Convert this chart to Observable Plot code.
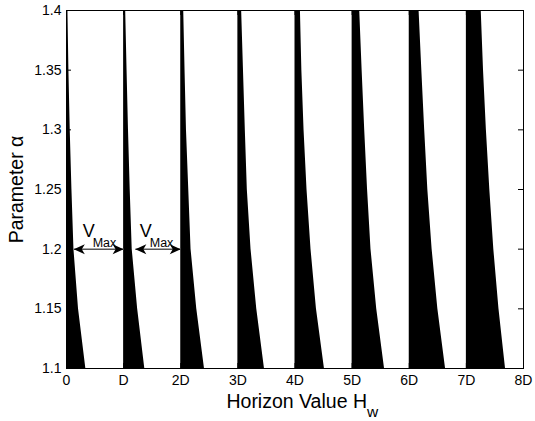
<!DOCTYPE html>
<html><head><meta charset="utf-8">
<script src="https://cdn.jsdelivr.net/npm/d3@7"></script>
<script src="https://cdn.jsdelivr.net/npm/@observablehq/plot@0.6"></script>
<style>
body{margin:0;background:#fff}
#chart svg{font-family:"Liberation Sans",Arial,Helvetica,sans-serif;background:#fff}
</style>
</head><body><div id="chart"></div>
<script>
// alpha levels at which the right edge of each black band was read
const alphaLevels = [1.1, 1.15, 1.2, 1.25, 1.3, 1.35, 1.4];
// left edge of each band (in units of D)
const bandStarts = [0, 1, 2, 3, 4, 5, 6, 7];
// band widths (in D) at each alpha level
const width0 = [0.338, 0.21, 0.13, 0.095, 0.065, 0.042, 0.025];
const width1 = [0.37, 0.245, 0.15, 0.115, 0.085, 0.06, 0.036];
const width2 = [0.415, 0.28, 0.18, 0.14, 0.10, 0.075, 0.052];
const width3 = [0.465, 0.33, 0.23, 0.165, 0.13, 0.098, 0.066];
const width4 = [0.515, 0.375, 0.28, 0.21, 0.158, 0.12, 0.095];
const width5 = [0.567, 0.43, 0.33, 0.27, 0.22, 0.175, 0.133];
const width6 = [0.635, 0.50, 0.40, 0.325, 0.27, 0.22, 0.172];
const width7 = [0.685, 0.57, 0.48, 0.41, 0.35, 0.30, 0.26];
const bandWidths = [width0, width1, width2, width3, width4, width5, width6, width7];

// axis ticks
const xTicks = [0, 1, 2, 3, 4, 5, 6, 7, 8];
const xTickLabels = ["0", "D", "2D", "3D", "4D", "5D", "6D", "7D", "8D"];
const yTicks = [1.1, 1.15, 1.2, 1.25, 1.3, 1.35, 1.4];
const yTickLabels = ["1.1", "1.15", "1.2", "1.25", "1.3", "1.35", "1.4"];

// V_Max annotations
const vmaxFrom = [0.128, 1.205];
const vmaxTo = [1, 2];
const vmaxAlpha = [1.2, 1.2];

const bands = bandStarts.flatMap((k, i) =>
  alphaLevels.map((a, j) => ({k, alpha: a, x1: k, x2: k + bandWidths[i][j]})));
const vmax = vmaxFrom.map((f, i) => ({from: f, to: vmaxTo[i], alpha: vmaxAlpha[i]}));
const heads = vmax.flatMap(d => [
  {x: d.from, alpha: d.alpha, rot: 180},
  {x: d.to, alpha: d.alpha, rot: 0}
]);

const arrowHead = {
  draw(ctx) {
    ctx.moveTo(0, 0);
    ctx.lineTo(-11, -5);
    ctx.lineTo(-8, 0);
    ctx.lineTo(-11, 5);
    ctx.closePath();
  }
};

const W = 535, H = 421, mL = 66, mR = 12, mT = 10, mB = 53;
const pw = W - mL - mR, ph = H - mT - mB, tick = 5;

const chart = Plot.plot({
  width: W, height: H,
  marginLeft: mL, marginRight: mR, marginTop: mT, marginBottom: mB,
  style: {fontFamily: '"Liberation Sans", Arial, sans-serif', fontSize: "14px", color: "black", background: "white"},
  x: {domain: [0, 8], inset: 0},
  y: {domain: [1.1, 1.4], inset: 0},
  marks: [
    Plot.areaX(bands, {y: "alpha", x1: "x1", x2: "x2", z: "k", fill: "black", curve: "linear"}),
    // inward ticks on all four sides
    Plot.tickX(xTicks, {x: d => d, insetTop: ph - tick, stroke: "black"}),
    Plot.tickX(xTicks, {x: d => d, insetBottom: ph - tick, stroke: "black"}),
    Plot.tickY(yTicks, {y: d => d, insetRight: pw - tick, stroke: "black"}),
    Plot.tickY(yTicks, {y: d => d, insetLeft: pw - tick, stroke: "black"}),
    Plot.axisX(xTicks, {anchor: "bottom", tickSize: 0, tickPadding: 7, fontSize: 14,
      tickFormat: d => xTickLabels[xTicks.indexOf(d)], label: null}),
    Plot.axisY(yTicks, {anchor: "left", tickSize: 0, tickPadding: 5, fontSize: 14,
      tickFormat: d => yTickLabels[yTicks.indexOf(d)], label: null}),
    Plot.frame({stroke: "black", strokeWidth: 1}),
    // V_Max arrows
    Plot.link(vmax, {x1: "from", x2: "to", y1: "alpha", y2: "alpha", stroke: "#555", strokeWidth: 1.5}),
    Plot.dot(heads, {x: "x", y: "alpha", symbol: arrowHead, rotate: "rot", fill: "black", stroke: null, r: 4}),
    Plot.text(vmax, {x: "to", y: "alpha", text: () => "V", dx: -35, dy: -18, fontSize: 18, textAnchor: "middle", lineAnchor: "middle", fill: "black"}),
    Plot.text(vmax, {x: "to", y: "alpha", text: () => "Max", dx: -31, dy: -6.5, fontSize: 12.5, textAnchor: "start", lineAnchor: "middle", fill: "black"}),
    // axis titles
    Plot.text([0], {frameAnchor: "bottom", text: () => "Horizon Value H", dx: 72, dy: 39, textAnchor: "end", lineAnchor: "bottom", fontSize: 19.5, fill: "black"}),
    Plot.text([0], {frameAnchor: "bottom", text: () => "w", dx: 72, dy: 48, textAnchor: "start", lineAnchor: "bottom", fontSize: 15.5, fill: "black"}),
    Plot.text([0], {frameAnchor: "left", text: () => "Parameter α", dx: -44, rotate: -90, textAnchor: "middle", lineAnchor: "bottom", fontSize: 19.5, fill: "black"})
  ]
});
document.getElementById("chart").appendChild(chart);
</script>
</body></html>
